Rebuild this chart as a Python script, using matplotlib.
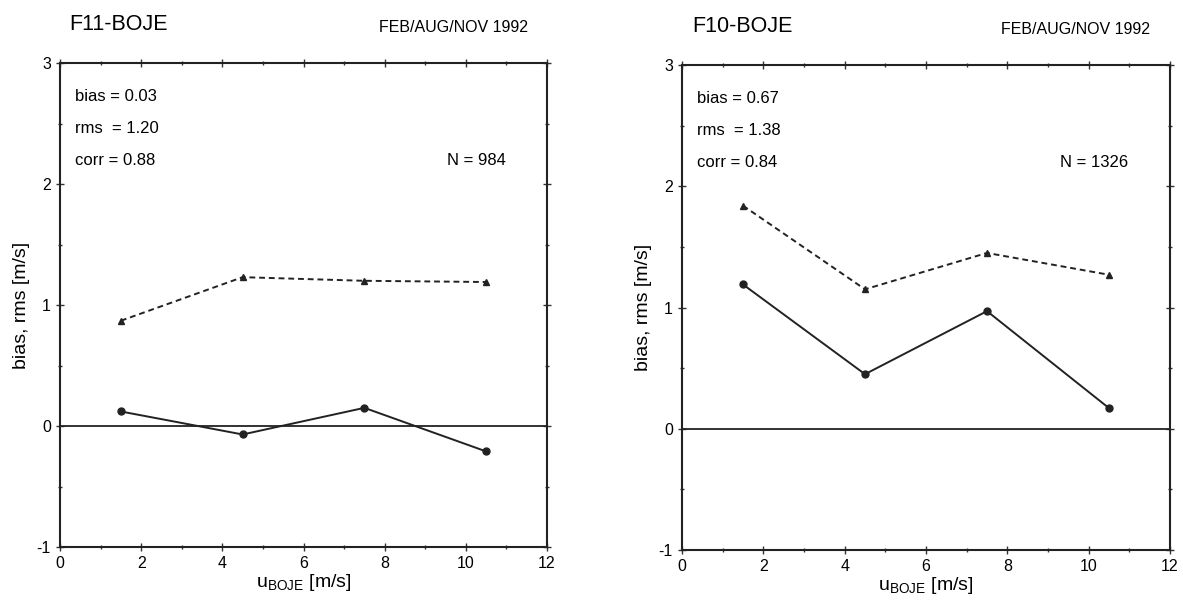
import matplotlib.pyplot as plt
from matplotlib.ticker import MultipleLocator

plt.rcParams['font.family'] = ['Liberation Sans', 'DejaVu Sans']
plt.rcParams['axes.unicode_minus'] = False

# ==================== data ====================
u_boje = [1.5, 4.5, 7.5, 10.5]

f11_bias = [0.12, -0.07, 0.15, -0.21]
f11_rms = [0.87, 1.23, 1.20, 1.19]
f11_stats = ["bias = 0.03", "rms  = 1.20", "corr = 0.88"]
f11_n = "N = 984"

f10_bias = [1.19, 0.45, 0.97, 0.17]
f10_rms = [1.84, 1.15, 1.45, 1.27]
f10_stats = ["bias = 0.67", "rms  = 1.38", "corr = 0.84"]
f10_n = "N = 1326"

panels = [
    ("F11-BOJE", f11_bias, f11_rms, f11_stats, f11_n),
    ("F10-BOJE", f10_bias, f10_rms, f10_stats, f10_n),
]

fig = plt.figure(figsize=(11.83, 6.02), dpi=100)
ax_rects = [
    [60 / 1183, 1 - 547 / 602, 487 / 1183, 484 / 602],
    [682 / 1183, 1 - 550 / 602, 488 / 1183, 485 / 602],
]

for rect, (name, bias, rms, stats, n_txt) in zip(ax_rects, panels):
    ax = fig.add_axes(rect)
    ax.axhline(0, color='#222222', lw=1.3)
    ax.plot(u_boje, bias, '-', color='#222222', lw=1.4,
            marker='o', ms=5)
    ax.plot(u_boje, rms, '--', color='#222222', lw=1.4,
            marker='^', ms=5, dashes=(3, 2))

    ax.set_xlim(0, 12)
    ax.set_ylim(-1, 3)
    ax.xaxis.set_major_locator(MultipleLocator(2))
    ax.xaxis.set_minor_locator(MultipleLocator(1))
    ax.yaxis.set_major_locator(MultipleLocator(1))
    ax.yaxis.set_minor_locator(MultipleLocator(0.5))
    ax.tick_params(which='both', direction='inout', top=True, right=True,
                   labeltop=False, labelright=False, labelsize=11.5,
                   width=1, color='#333333')
    ax.tick_params(which='major', length=6)
    ax.tick_params(which='minor', length=3)
    for sp in ax.spines.values():
        sp.set_linewidth(1.5)
        sp.set_color('#222222')

    ax.set_xlabel("u$_\\mathregular{BOJE}$ [m/s]", fontsize=14, labelpad=1)
    ax.set_ylabel("bias, rms [m/s]", fontsize=14, labelpad=5)

    for i, s in enumerate(stats):
        ax.text(0.03, 0.93 - i * 0.066, s, transform=ax.transAxes,
                fontsize=12, va='center', ha='left')
    ax.text(0.915, 0.93 - 2 * 0.066, n_txt, transform=ax.transAxes,
            fontsize=12, va='center', ha='right')

    ax.text(0.02, 1.08, name, transform=ax.transAxes, fontsize=15.5,
            va='center', ha='left')
    ax.text(0.96, 1.074, "FEB/AUG/NOV 1992", transform=ax.transAxes,
            fontsize=11.5, va='center', ha='right')

plt.savefig("out.png", dpi=100, facecolor='white')
plt.close()
